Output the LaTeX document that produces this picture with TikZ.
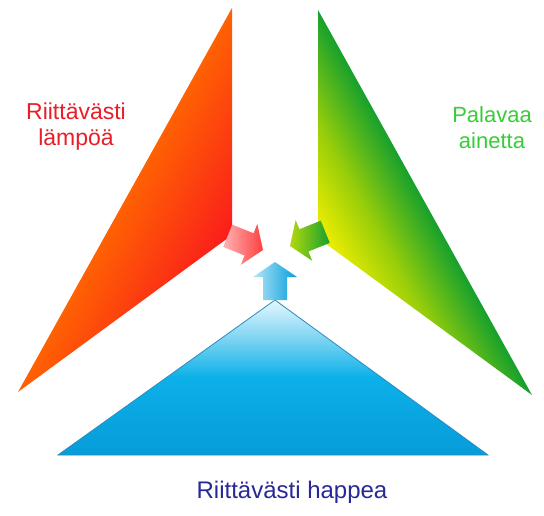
\documentclass[tikz,border=0pt]{standalone}
\usepackage{fontspec}
\setmainfont{Liberation Sans}
\definecolor{torange}{RGB}{255,104,0}
\definecolor{tred}{RGB}{250,28,28}
\definecolor{tgreen}{RGB}{22,160,45}
\definecolor{tyg}{RGB}{150,205,10}
\definecolor{tyellow}{RGB}{245,240,0}
\definecolor{blight}{RGB}{230,247,253}
\definecolor{bsoft}{RGB}{120,210,242}
\definecolor{bmid}{RGB}{12,176,232}
\definecolor{bdark}{RGB}{6,156,218}
\definecolor{bline}{RGB}{40,140,190}
\definecolor{txtred}{RGB}{232,30,40}
\definecolor{txtgreen}{RGB}{55,205,55}
\definecolor{txtblue}{RGB}{40,40,150}
\pgfdeclareverticalshading{redtri}{100bp}{color(0bp)=(tred); color(30bp)=(tred); color(42bp)=(tred!45!torange); color(52bp)=(torange); color(100bp)=(torange)}
\pgfdeclareverticalshading{greentri}{100bp}{color(0bp)=(tyellow); color(30bp)=(tyellow); color(40bp)=(tyg); color(50bp)=(tgreen); color(100bp)=(tgreen)}
\pgfdeclareverticalshading{bluetri}{100bp}{color(0bp)=(bdark); color(25bp)=(bdark); color(50bp)=(bmid); color(62bp)=(bsoft); color(75bp)=(blight); color(100bp)=(blight)}
\tikzset{
  lbl/.style={align=center, inner sep=0pt},
}
\newcommand{\blockarrow}{(-38,-12) -- (-15,-12) -- (-15,-22) -- (0,0) -- (-15,22) -- (-15,12) -- (-38,12) -- cycle}
\begin{document}
\begin{tikzpicture}[x=1pt,y=-1pt]
\useasboundingbox (0,0) rectangle (544,515);
\fill[white] (0,0) rectangle (544,515);
% triangles
\coordinate (r1) at (232,8);
\coordinate (r2) at (18,392);
\coordinate (r3) at (232,235);
\coordinate (g1) at (318,10);
\coordinate (g2) at (532,395);
\coordinate (g3) at (318,238);
\coordinate (b1) at (275,300);
\coordinate (b2) at (58,455);
\coordinate (b3) at (488,455);
\shade[shading=redtri, shading angle=61] (r1) -- (r2) -- (r3) -- cycle;
\shade[shading=greentri, shading angle=-61] (g1) -- (g2) -- (g3) -- cycle;
\shade[shading=bluetri, draw=bline, line width=0.8pt] (b1) -- (b2) -- (b3) -- cycle;
% small arrows
\begin{scope}[shift={(263,250)}, rotate=-22]
  \shade[left color=red!30!white, right color=red!75!white] \blockarrow;
\end{scope}
\begin{scope}[shift={(290,246)}, rotate=202]
  \shade[left color=tyellow!70!tgreen, right color=tgreen] \blockarrow;
\end{scope}
\begin{scope}[shift={(275,262)}, rotate=90]
  \shade[left color=bmid!30!white, right color=bdark] \blockarrow;
\end{scope}
% labels
\node[lbl, text=txtred, font=\fontsize{23}{26}\selectfont] (heat) at (76,127) {Riittävästi\\lämpöä};
\node[lbl, text=txtgreen, font=\fontsize{22}{26}\selectfont] (fuel) at (492,128) {Palavaa\\ainetta};
\node[lbl, text=txtblue, font=\fontsize{24}{26}\selectfont] (oxy) at (292,492) {Riittävästi happea};
\end{tikzpicture}
\end{document}
